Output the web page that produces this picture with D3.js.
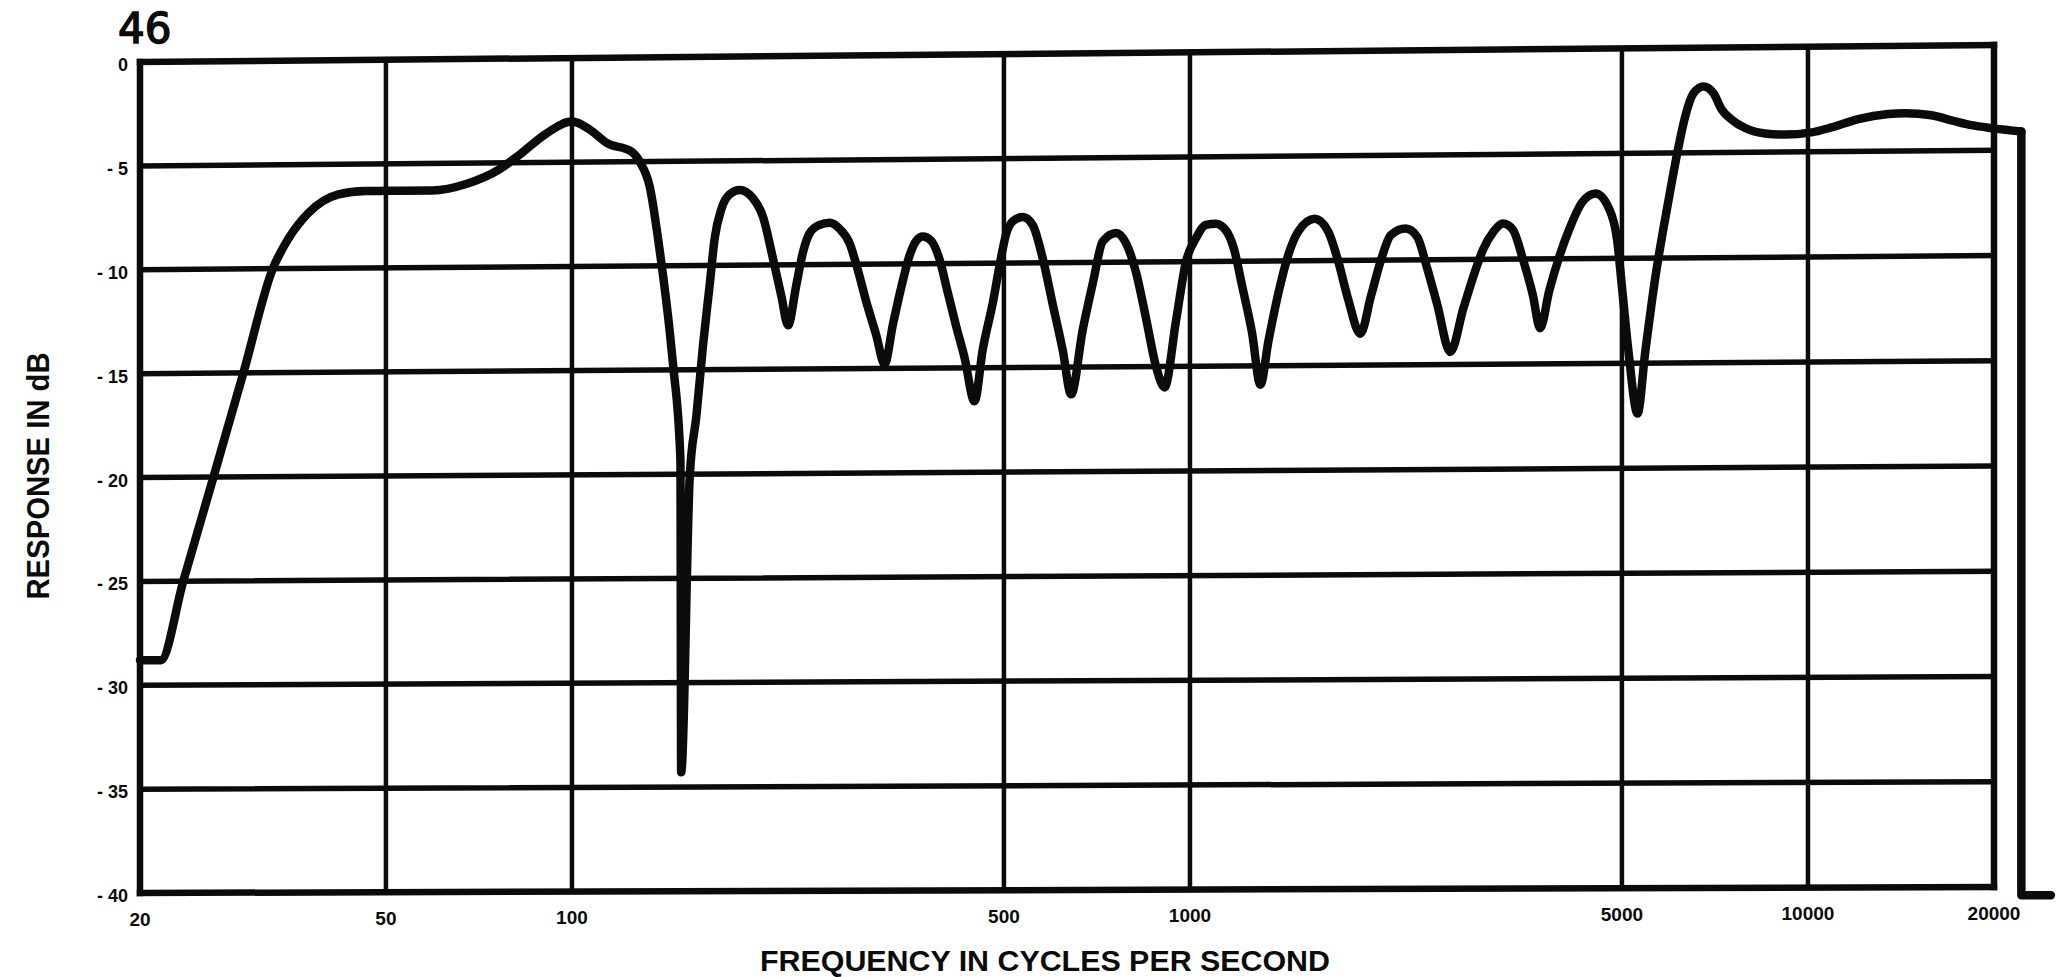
<!DOCTYPE html>
<html><head><meta charset="utf-8">
<script src="https://cdn.jsdelivr.net/npm/d3@7"></script>
<style>html,body{margin:0;padding:0;background:#fff;} svg{display:block;}</style>
</head><body>
<svg id="chart" width="2061" height="977"></svg>
<script>
// ---- data ----
const freqHz = [20, 21.6, 23.5, 26.3, 29.4, 32.8, 34.7, 37.4, 41.9, 46.3, 50, 59.4, 67.4, 76.4, 82.4, 91, 100, 107, 114, 124.6,
  128.7, 133.6, 138.7, 144, 145.8, 149.8, 150.2, 155.1, 159, 163, 167.1, 170.2, 174.5, 180, 186.9, 196.3, 203.8, 211.5, 218.2, 223.7,
  230.6, 236.5, 242.4, 251.6, 261.2, 271.1, 281.4, 288.4, 299.4, 310.7, 320.5, 330.6, 343.1, 351.8, 360.6, 369.7, 381.3, 393.4, 405.7, 418.5,
  431.7, 448.1, 462.2, 479.7, 494.9, 504.2, 516.8, 536.5, 556.8, 577.9, 599.8, 622.6, 642.2, 670.8, 696.2, 722.6, 759.4, 788.2, 818.1, 849.1,
  881.3, 909.6, 949.6, 985.3, 1022, 1061, 1101, 1142, 1178, 1215, 1260, 1300, 1340, 1391, 1443, 1497, 1592, 1673, 1736, 1801,
  1887, 1963, 2037, 2114, 2234, 2332, 2420, 2511, 2638, 2771, 2875, 2983, 3095, 3211, 3332, 3457, 3587, 3686, 3815, 3959,
  4108, 4315, 4533, 4761, 4910, 5002, 5126, 5300, 5452, 5657, 5949, 6174, 6328, 6528, 6775, 7031, 7253, 7528, 7911, 8522,
  9181, 10077, 10922, 12060, 13485, 14345, 15840, 17065, 18384, 20001, 22145];
const responseDb = [-28.8, -28.8, -25, -20, -15, -10, -8.6, -7.35, -6.45, -6.3, -6.3, -6.3, -6.0, -5.3, -4.6, -3.6, -3.05, -3.45, -4.1, -4.5,
  -5.0, -6.2, -9.3, -13.2, -14.8, -19.3, -34.3, -20.1, -17.2, -13.8, -10.9, -8.7, -7.3, -6.6, -6.4, -6.8, -7.7, -9.7, -11.5, -12.9,
  -11.0, -9.4, -8.5, -8.1, -8.0, -8.3, -9.0, -10.0, -11.8, -13.4, -14.8, -12.9, -10.8, -9.6, -8.9, -8.7, -8.9, -9.8, -11.4, -13.0,
  -14.5, -16.6, -14.1, -11.9, -9.7, -8.6, -8.0, -7.8, -8.2, -9.8, -12.0, -14.2, -16.3, -13.2, -11.0, -9.0, -8.6, -9.1, -10.5, -12.7,
  -15.0, -16.0, -12.8, -10.0, -8.9, -8.25, -8.2, -8.5, -9.4, -11.2, -13.4, -15.9, -13.8, -11.5, -9.7, -8.6, -8.0, -8.6, -10.0, -11.8,
  -13.5, -11.7, -10.0, -8.8, -8.5, -8.9, -10.4, -12.1, -14.4, -12.3, -10.8, -9.5, -8.7, -8.3, -8.6, -10.0, -11.7, -13.3, -11.5, -9.9,
  -8.6, -7.3, -6.9, -7.6, -9.1, -11.4, -14.5, -17.4, -14.5, -11.0, -7.24, -4.7, -3.28, -2.17, -1.85, -2.17, -2.96, -3.44, -3.84, -4.11,
  -4.17, -4.09, -3.85, -3.46, -3.23, -3.2, -3.31, -3.56, -3.80, -3.96, -4.12];
// pen drop at the end of the trace (beyond 20 kHz)
const tailHz = [22145, 22145, 24724];
const tailDb = [-4.12, -40.4, -40.4];

const yTickValues = [0, -5, -10, -15, -20, -25, -30, -35, -40];
const yTickLabels = ["0", "- 5", "- 10", "- 15", "- 20", "- 25", "- 30", "- 35", "- 40"];
const xTickValues = [20, 50, 100, 500, 1000, 5000, 10000, 20000];
const xTickLabels = ["20", "50", "100", "500", "1000", "5000", "10000", "20000"];
const pageNumber = "46";
const xTitle = "FREQUENCY IN CYCLES PER SECOND";
const yTitle = "RESPONSE IN dB";

// ---- scales (the printed grid is slightly tilted: separate left/right y ranges) ----
const ink = "#0b0b0b";
const x = d3.scaleLog().domain([20, 20000]).range([140, 1994]);
const tPos = d3.scaleLog().domain([20, 20000]).range([0, 1]);
const yLeft = d3.scaleLinear().domain([0, -40]).range([62, 893]);
const yRight = d3.scaleLinear().domain([0, -40]).range([45, 887]);
function P(f, d) {
  const tt = tPos(f);
  return [x(f), yLeft(d) + (yRight(d) - yLeft(d)) * tt];
}

const svg = d3.select("#chart");
svg.append("rect").attr("width", 2061).attr("height", 977).attr("fill", "#fff");
const g = svg.append("g");

// horizontal grid lines
g.selectAll("line.h").data(yTickValues).join("line").attr("class", "h")
  .attr("x1", d => P(20, d)[0]).attr("y1", d => P(20, d)[1])
  .attr("x2", d => P(20000, d)[0]).attr("y2", d => P(20000, d)[1])
  .attr("stroke", ink).attr("stroke-width", d => (d === 0 || d === -40) ? 6.5 : 5.5)
  .attr("stroke-linecap", "square");

// vertical grid lines
g.selectAll("line.v").data(xTickValues).join("line").attr("class", "v")
  .attr("x1", f => P(f, 0)[0]).attr("y1", f => P(f, 0)[1])
  .attr("x2", f => P(f, -40)[0]).attr("y2", f => P(f, -40)[1])
  .attr("stroke", ink).attr("stroke-width", f => (f === 20 || f === 20000) ? 6.5 : 4.5)
  .attr("stroke-linecap", "square");

// response curve
const pts = freqHz.map((f, i) => P(f, responseDb[i]));
const line = d3.line().x(p => p[0]).y(p => p[1]).curve(d3.curveMonotoneX);
g.append("path").attr("d", line(pts)).attr("fill", "none").attr("stroke", ink)
  .attr("stroke-width", 8.5).attr("stroke-linejoin", "round").attr("stroke-linecap", "round");

const tailPts = tailHz.map((f, i) => P(f, tailDb[i]));
tailPts.unshift(pts[pts.length - 1]);
const lineLin = d3.line().x(p => p[0]).y(p => p[1]).curve(d3.curveLinear);
g.append("path").attr("d", lineLin(tailPts)).attr("fill", "none").attr("stroke", ink)
  .attr("stroke-width", 8.5).attr("stroke-linejoin", "round").attr("stroke-linecap", "round");

// y tick labels
g.selectAll("text.yt").data(yTickValues).join("text").attr("class", "yt")
  .attr("x", 128).attr("y", d => P(20, d)[1] + 3)
  .attr("dominant-baseline", "central").attr("text-anchor", "end")
  .attr("font-family", "Liberation Sans, Arial, sans-serif").attr("font-weight", "bold")
  .attr("font-size", 18).attr("fill", ink)
  .text((d, i) => yTickLabels[i]);

// x tick labels
g.selectAll("text.xt").data(xTickValues).join("text").attr("class", "xt")
  .attr("x", f => P(f, -40)[0]).attr("y", f => P(f, -40)[1] + 26)
  .attr("dominant-baseline", "central").attr("text-anchor", "middle")
  .attr("font-family", "Liberation Sans, Arial, sans-serif").attr("font-weight", "bold")
  .attr("font-size", 19).attr("fill", ink)
  .text((d, i) => xTickLabels[i]);

// axis titles
svg.append("text").attr("x", 1045).attr("y", 961).attr("text-anchor", "middle")
  .attr("dominant-baseline", "central")
  .attr("font-family", "Liberation Sans, Arial, sans-serif").attr("font-weight", "bold")
  .attr("font-size", 29).attr("fill", ink)
  .attr("textLength", 570).attr("lengthAdjust", "spacingAndGlyphs")
  .text(xTitle);

svg.append("text").attr("transform", "translate(38,476) rotate(-90)")
  .attr("text-anchor", "middle").attr("dominant-baseline", "central")
  .attr("font-family", "Liberation Sans, Arial, sans-serif").attr("font-weight", "bold")
  .attr("font-size", 32).attr("fill", ink)
  .attr("textLength", 247).attr("lengthAdjust", "spacingAndGlyphs")
  .text(yTitle);

// page number (handwritten in original)
svg.append("text").attr("x", 118).attr("y", 43)
  .attr("font-family", "DejaVu Sans, sans-serif").attr("font-size", 42)
  .attr("fill", ink).attr("stroke", ink).attr("stroke-width", 1.5)
  .text(pageNumber);
</script>
</body></html>
